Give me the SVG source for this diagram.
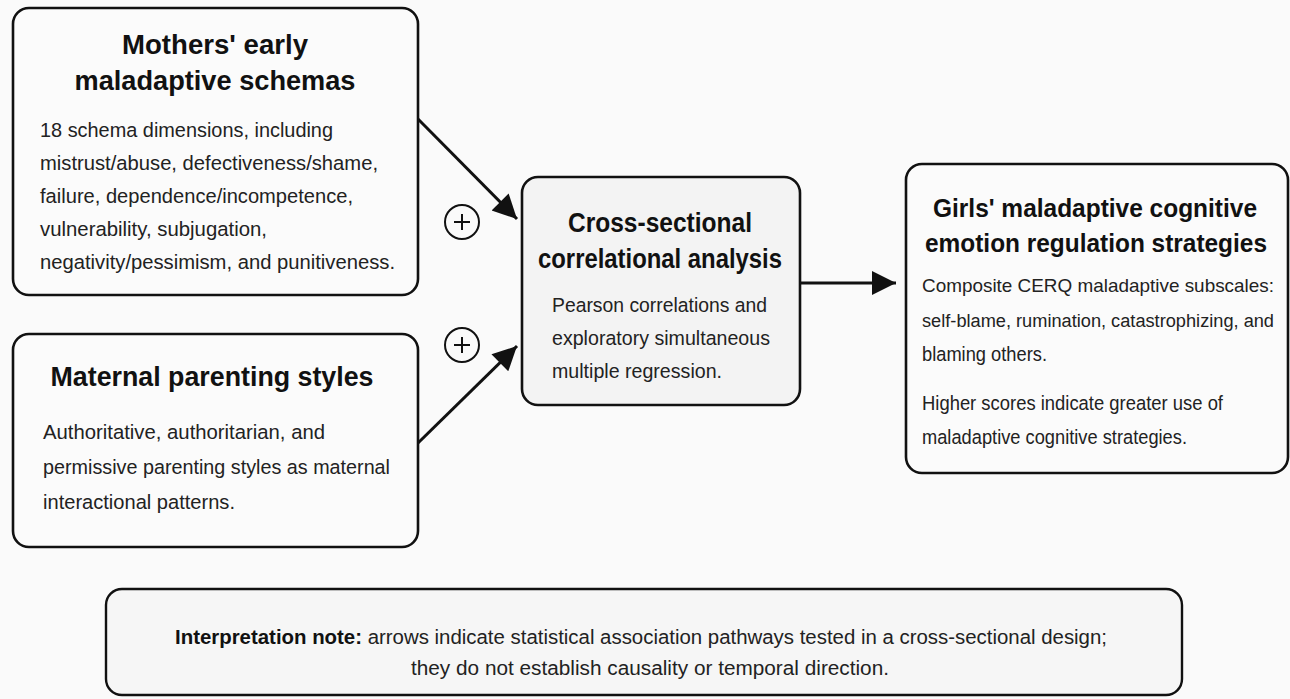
<svg xmlns="http://www.w3.org/2000/svg" width="1290" height="699" viewBox="0 0 1290 699">
<defs>
<marker id="ah" viewBox="0 0 10 10" refX="10" refY="5" markerWidth="9" markerHeight="8" markerUnits="strokeWidth" orient="auto">
<path d="M0,0 L10,5 L0,10 z" fill="#111"/>
</marker>
<style>
.box{fill:#fbfbfb;stroke:#111;stroke-width:2.6}
.mid{fill:#f3f3f3;stroke:#111;stroke-width:2.6}
.note{fill:#f6f6f6;stroke:#111;stroke-width:2.4}
.t{font-family:"Liberation Sans",Arial,sans-serif;font-weight:bold;font-size:28px;fill:#111;text-anchor:middle}
.b{font-family:"Liberation Sans",Arial,sans-serif;font-size:20.5px;fill:#222}
.n{font-family:"Liberation Sans",Arial,sans-serif;font-size:20px;fill:#222;text-anchor:middle}
.c{fill:none;stroke:#111;stroke-width:2}
.ln{stroke:#111;stroke-width:3;fill:none}
</style>
</defs>
<rect width="1290" height="699" fill="#fafafa"/>
<g id="connectors">
<line class="ln" x1="418" y1="119" x2="517" y2="219" marker-end="url(#ah)"/>
<line class="ln" x1="418" y1="443" x2="517" y2="346" marker-end="url(#ah)"/>
<line class="ln" x1="800" y1="283" x2="896" y2="283" marker-end="url(#ah)"/>
<g id="plus1"><circle class="c" cx="462" cy="222" r="17"/><path class="c" d="M454,222 H470 M462,214 V230"/></g>
<g id="plus2"><circle class="c" cx="462" cy="345" r="17"/><path class="c" d="M454,345 H470 M462,337 V353"/></g>
</g>
<g id="schemas">
<rect class="box" x="13" y="8" width="405" height="287" rx="16"/>
<text class="t" x="215" y="54" textLength="186" lengthAdjust="spacingAndGlyphs">Mothers' early</text>
<text class="t" x="215" y="90" textLength="281" lengthAdjust="spacingAndGlyphs">maladaptive schemas</text>
<text class="b" x="40" y="137" textLength="293" lengthAdjust="spacingAndGlyphs">18 schema dimensions, including</text>
<text class="b" x="40" y="170" textLength="338" lengthAdjust="spacingAndGlyphs">mistrust/abuse, defectiveness/shame,</text>
<text class="b" x="40" y="203" textLength="313" lengthAdjust="spacingAndGlyphs">failure, dependence/incompetence,</text>
<text class="b" x="40" y="236" textLength="227" lengthAdjust="spacingAndGlyphs">vulnerability, subjugation,</text>
<text class="b" x="40" y="269" textLength="355" lengthAdjust="spacingAndGlyphs">negativity/pessimism, and punitiveness.</text>
</g>
<g id="parenting">
<rect class="box" x="13" y="334" width="405" height="213" rx="16"/>
<text class="t" x="212" y="386" textLength="323" lengthAdjust="spacingAndGlyphs">Maternal parenting styles</text>
<text class="b" x="43" y="439" textLength="282" lengthAdjust="spacingAndGlyphs">Authoritative, authoritarian, and</text>
<text class="b" x="43" y="474" textLength="347" lengthAdjust="spacingAndGlyphs">permissive parenting styles as maternal</text>
<text class="b" x="43" y="509" textLength="192" lengthAdjust="spacingAndGlyphs">interactional patterns.</text>
</g>
<g id="analysis">
<rect class="mid" x="522" y="177" width="278" height="228" rx="16"/>
<text class="t" x="660" y="232" textLength="184" lengthAdjust="spacingAndGlyphs">Cross-sectional</text>
<text class="t" x="660" y="268" textLength="244" lengthAdjust="spacingAndGlyphs">correlational analysis</text>
<text class="b" x="552" y="312" textLength="215" lengthAdjust="spacingAndGlyphs">Pearson correlations and</text>
<text class="b" x="552" y="345" textLength="218" lengthAdjust="spacingAndGlyphs">exploratory simultaneous</text>
<text class="b" x="552" y="378" textLength="170" lengthAdjust="spacingAndGlyphs">multiple regression.</text>
</g>
<g id="outcome">
<rect class="box" x="906" y="164" width="382" height="309" rx="16"/>
<text class="t" x="1095" y="217" font-size="26" textLength="324" lengthAdjust="spacingAndGlyphs" style="font-size:26px">Girls' maladaptive cognitive</text>
<text class="t" x="1096" y="252" textLength="342" lengthAdjust="spacingAndGlyphs" style="font-size:26px">emotion regulation strategies</text>
<text class="b" x="922" y="292" textLength="352" lengthAdjust="spacingAndGlyphs" style="font-size:18.5px">Composite CERQ maladaptive subscales:</text>
<text class="b" x="922" y="327" textLength="352" lengthAdjust="spacingAndGlyphs" style="font-size:18px">self-blame, rumination, catastrophizing, and</text>
<text class="b" x="922" y="361" textLength="125" lengthAdjust="spacingAndGlyphs">blaming others.</text>
<text class="b" x="922" y="410" textLength="301" lengthAdjust="spacingAndGlyphs">Higher scores indicate greater use of</text>
<text class="b" x="922" y="444" textLength="265" lengthAdjust="spacingAndGlyphs">maladaptive cognitive strategies.</text>
</g>
<g id="note">
<rect class="note" x="106" y="589" width="1076" height="106" rx="16"/>
<text class="n" x="641" y="644" textLength="932" lengthAdjust="spacingAndGlyphs"><tspan font-weight="bold" fill="#111">Interpretation note:</tspan> arrows indicate statistical association pathways tested in a cross-sectional design;</text>
<text class="n" x="650" y="675" textLength="478" lengthAdjust="spacingAndGlyphs">they do not establish causality or temporal direction.</text>
</g>
</svg>
